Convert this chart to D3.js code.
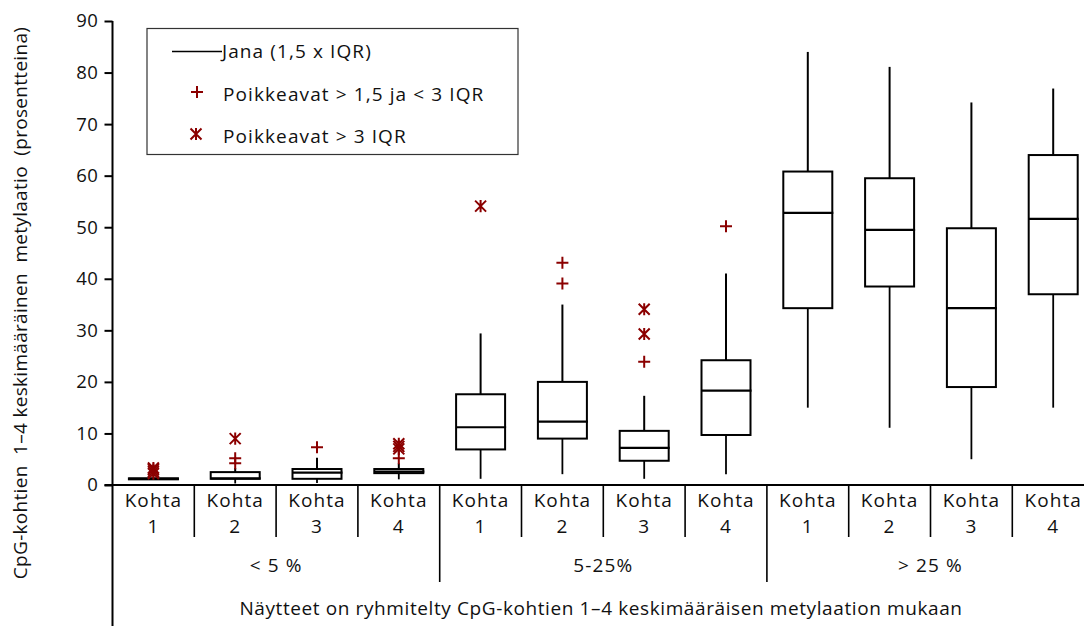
<!DOCTYPE html>
<html>
<head>
<meta charset="utf-8">
<script src="https://cdn.jsdelivr.net/npm/d3@7"></script>
<style>
  html, body { margin: 0; padding: 0; background: #fff; }
  svg { display: block; }
  text { font-family: "Open Sans", "Lato", sans-serif; fill: #111; }
</style>
</head>
<body>
<svg id="chart" width="1084" height="626"></svg>
<script>
// Methylation of CpG sites 1–4, grouped by mean methylation level
const siteLabels = ["1", "2", "3", "4", "1", "2", "3", "4", "1", "2", "3", "4"];
const groupLabels = ["< 5 %", "5-25%", "> 25 %"];
const yTicks = [0, 10, 20, 30, 40, 50, 60, 70, 80, 90];

// Box statistics (percent)
const whiskerLow  = [1.0, 0.3, 0.4, 1.1, 1.2, 2.1, 1.2, 2.1, 15.0, 11.1, 5.0, 15.0];
const q1          = [1.1, 1.2, 1.2, 2.3, 6.9, 9.0, 4.7, 9.7, 34.3, 38.5, 19.0, 37.0];
const median      = [1.2, 1.3, 2.4, 2.6, 11.2, 12.3, 7.2, 18.3, 52.8, 49.5, 34.3, 51.6];
const q3          = [1.3, 2.5, 3.1, 3.1, 17.6, 20.0, 10.5, 24.2, 60.8, 59.5, 49.8, 64.0];
const whiskerHigh = [1.4, 3.3, 5.3, 4.2, 29.4, 35.0, 17.3, 41.0, 84.0, 81.1, 74.2, 76.9];

// Outliers: > 1.5 and < 3 IQR (plus), > 3 IQR (asterisk)
const mildOutliers    = [[], [4.2, 5.2], [7.3], [5.2], [], [39.1, 43.1], [23.9], [50.2], [], [], [], []];
const extremeOutliers = [[2.2, 2.6, 3.0, 3.3], [9.0], [], [7.0, 7.5, 8.0], [54.1], [], [29.3, 34.1], [], [], [], [], []];

const outlierColor = "#8b0000";
const fontSize = "19px";
const spacing = "1.1px";
const svg = d3.select("#chart");

const axisX = 112.5, axisY = 485;
const y = d3.scaleLinear().domain([0, 90]).range([axisY, 21]);
const x = d3.scaleBand().domain(d3.range(siteLabels.length)).range([axisX, axisX + 12 * 81.8]).padding(0);
const boxW = 49;

// Y axis
const yAxis = svg.append("g")
  .attr("transform", `translate(${axisX},0)`)
  .call(d3.axisLeft(y).tickValues(yTicks).tickSize(8).tickPadding(6).tickFormat(d3.format("d")));
yAxis.select(".domain").remove();
yAxis.selectAll(".tick line").attr("stroke", "#000").attr("stroke-width", 2);
yAxis.selectAll(".tick text").style("font-size", "18.5px").style("letter-spacing", "0.6px").attr("fill", "#111");
svg.append("line").attr("x1", axisX).attr("x2", axisX).attr("y1", y(90)).attr("y2", 626)
  .attr("stroke", "#000").attr("stroke-width", 2);

// X axis baseline and category dividers
svg.append("line").attr("x1", axisX - 8).attr("x2", 1084).attr("y1", axisY).attr("y2", axisY)
  .attr("stroke", "#000").attr("stroke-width", 2);
const bounds = d3.range(1, siteLabels.length + 1).map(i => i < siteLabels.length ? x(i) : x(i - 1) + x.bandwidth());
svg.append("g").selectAll("line").data(bounds).join("line")
  .attr("x1", d => d).attr("x2", d => d)
  .attr("y1", axisY)
  .attr("y2", (d, i) => ((i + 1) % 4 === 0) ? 582 : 537)
  .attr("stroke", "#000").attr("stroke-width", 1.6);

const cx = i => x(i) + x.bandwidth() / 2;
const labels = svg.append("g").style("font-size", fontSize).style("letter-spacing", spacing)
  .attr("text-anchor", "middle");
siteLabels.forEach((s, i) => {
  labels.append("text").attr("x", cx(i)).attr("y", 507).text("Kohta");
  labels.append("text").attr("x", cx(i)).attr("y", 533).text(s);
});
groupLabels.forEach((g, k) => {
  const mid = (x(k * 4) + x(k * 4 + 3) + x.bandwidth()) / 2;
  labels.append("text").attr("x", mid).attr("y", 572).text(g);
});
labels.append("text").attr("x", 601).attr("y", 615).style("letter-spacing", "0.6px")
  .text("Näytteet on ryhmitelty CpG-kohtien 1–4 keskimääräisen metylaation mukaan");

// Y axis title
svg.append("text")
  .attr("transform", "translate(27,303) rotate(-90)")
  .attr("text-anchor", "middle")
  .style("font-size", fontSize)
  .style("letter-spacing", "0.3px")
  .style("white-space", "pre")
  .text("CpG-kohtien  1–4 keskimääräinen  metylaatio  (prosentteina)");

// Boxes
const boxes = svg.append("g").selectAll("g").data(d3.range(siteLabels.length)).join("g");
boxes.append("line")
  .attr("x1", cx).attr("x2", cx)
  .attr("y1", i => y(q3[i])).attr("y2", i => y(whiskerHigh[i]))
  .attr("stroke", "#000").attr("stroke-width", 2);
boxes.append("line")
  .attr("x1", cx).attr("x2", cx)
  .attr("y1", i => y(q1[i])).attr("y2", i => y(whiskerLow[i]))
  .attr("stroke", "#000").attr("stroke-width", 1.8);
boxes.append("rect")
  .attr("x", i => cx(i) - boxW / 2).attr("width", boxW)
  .attr("y", i => y(q3[i])).attr("height", i => y(q1[i]) - y(q3[i]))
  .attr("fill", "#fff").attr("stroke", "#000").attr("stroke-width", 2);
boxes.append("line")
  .attr("x1", i => cx(i) - boxW / 2).attr("x2", i => cx(i) + boxW / 2 + 1)
  .attr("y1", i => y(median[i])).attr("y2", i => y(median[i]))
  .attr("stroke", "#000").attr("stroke-width", 2.2);

// Outlier markers
const plusPath = r => `M${-r},0H${r}M0,${-r}V${r}`;
const starPath = r => `M${-r},${-r}L${r},${r}M${-r},${r}L${r},${-r}M0,${-r * 1.1}V${r * 1.1}`;

const mild = svg.append("g");
mildOutliers.forEach((vals, i) => vals.forEach(v => {
  mild.append("path").attr("d", plusPath(6))
    .attr("transform", `translate(${cx(i)},${y(v)})`)
    .attr("stroke", outlierColor).attr("stroke-width", 2).attr("fill", "none");
}));
const extreme = svg.append("g");
extremeOutliers.forEach((vals, i) => vals.forEach(v => {
  extreme.append("path").attr("d", starPath(5.5))
    .attr("transform", `translate(${cx(i)},${y(v)})`)
    .attr("stroke", outlierColor).attr("stroke-width", 2).attr("fill", "none");
}));

// Legend
const lg = svg.append("g").style("font-size", fontSize).style("letter-spacing", spacing);
lg.append("rect").attr("x", 147).attr("y", 28.5).attr("width", 371).attr("height", 126)
  .attr("fill", "#fff").attr("stroke", "#333").attr("stroke-width", 1.2);
lg.append("line").attr("x1", 172).attr("x2", 222).attr("y1", 51.5).attr("y2", 51.5)
  .attr("stroke", "#000").attr("stroke-width", 1.5);
lg.append("text").attr("x", 222).attr("y", 58).text("Jana (1,5 x IQR)");
lg.append("path").attr("d", plusPath(6)).attr("transform", "translate(197,92)")
  .attr("stroke", outlierColor).attr("stroke-width", 2).attr("fill", "none");
lg.append("text").attr("x", 223).attr("y", 101).text("Poikkeavat > 1,5 ja < 3 IQR");
lg.append("path").attr("d", starPath(5.5)).attr("transform", "translate(196,134)")
  .attr("stroke", outlierColor).attr("stroke-width", 2).attr("fill", "none");
lg.append("text").attr("x", 223).attr("y", 143).text("Poikkeavat > 3 IQR");
</script>
</body>
</html>
